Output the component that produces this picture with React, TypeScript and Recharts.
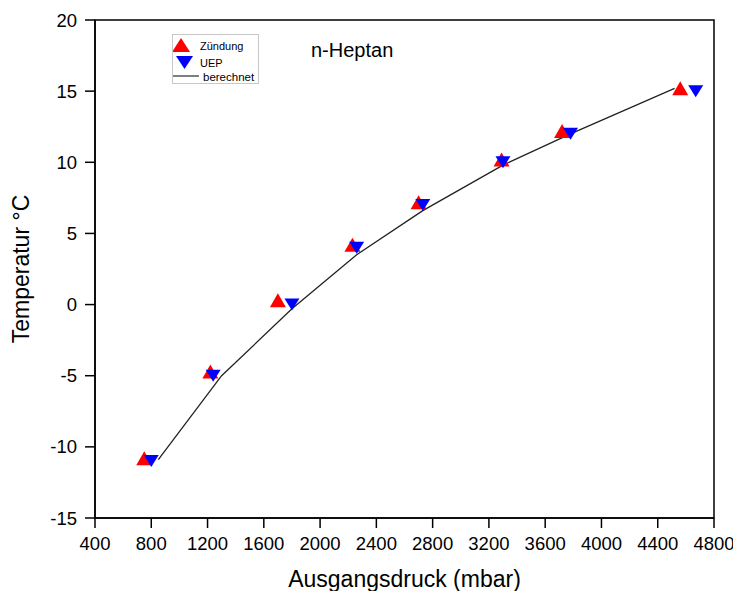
import { ComposedChart, Scatter, Line, XAxis, YAxis, ReferenceArea, Legend } from 'recharts'

// Messwerte: Ausgangsdruck (mbar) / Temperatur (°C)
const zuendungDruck = [750, 1220, 1700, 2230, 2700, 3290, 3720, 4560]
const zuendungTemp = [-10.8, -4.7, 0.3, 4.2, 7.2, 10.2, 12.2, 15.2]
const uepDruck = [800, 1240, 1800, 2260, 2730, 3300, 3780, 4670]
const uepTemp = [-11.0, -5.0, 0.0, 4.0, 7.0, 10.0, 12.0, 15.0]
const berechnetDruck = [850, 1300, 1800, 2260, 2730, 3300, 3780, 4520]
const berechnetTemp = [-10.9, -5.0, -0.3, 3.5, 6.6, 9.8, 12.0, 15.2]

const xTicks = [400, 800, 1200, 1600, 2000, 2400, 2800, 3200, 3600, 4000, 4400, 4800]
const yTicks = [-15, -10, -5, 0, 5, 10, 15, 20]

const zuendung = zuendungDruck.map((p, i) => ({ p, t: zuendungTemp[i] }))
const uep = uepDruck.map((p, i) => ({ p, t: uepTemp[i] }))
const berechnet = berechnetDruck.map((p, i) => ({ p, t: berechnetTemp[i] }))

const font = '"Liberation Sans", Arial, sans-serif'

const UpTriangle = (props: any) => {
    const { cx, cy, fill } = props
    return <polygon points={`${cx},${cy - 7} ${cx + 8},${cy + 7} ${cx - 8},${cy + 7}`} fill={fill} />
}

const DownTriangle = (props: any) => {
    const { cx, cy, fill } = props
    return <polygon points={`${cx - 7.5},${cy - 6} ${cx + 7.5},${cy - 6} ${cx},${cy + 6}`} fill={fill} />
}

const LegendBox = () => (
    <div style={{ width: 87, height: 50, border: '1px solid #c8c8c8', boxSizing: 'border-box', background: '#fff' }}>
        <svg width={85} height={48} style={{ display: 'block' }}>
            <polygon points="8,3 17,17 -1,17" fill="#ff0000" />
            <text x={27} y={15} fontSize={11} fontFamily={font} fill="#000">Zündung</text>
            <polygon points="3,21 20,21 11.5,34" fill="#0000ff" />
            <text x={27} y={32} fontSize={11} fontFamily={font} fill="#000">UEP</text>
            <line x1={0} y1={41} x2={26} y2={41} stroke="#000" strokeWidth={1} />
            <text x={30} y={46} fontSize={11.5} fontFamily={font} fill="#000">berechnet</text>
        </svg>
    </div>
)

export default function App() {
    return (
        <ComposedChart
            width={733}
            height={583}
            margin={{ top: 12, right: 27, bottom: 0, left: 0 }}
            style={{ fontFamily: font }}
        >
            <XAxis
                dataKey="p"
                type="number"
                domain={[400, 4800]}
                ticks={xTicks}
                allowDataOverflow
                height={73}
                stroke="#000"
                strokeWidth={1.5}
                tickSize={10}
                tickMargin={9}
                tick={{ fill: '#000', fontSize: 18.5 }}
                label={{ value: 'Ausgangsdruck (mbar)', position: 'insideBottom', offset: 4, fill: '#000', fontSize: 23 }}
            />
            <YAxis
                dataKey="t"
                type="number"
                domain={[-15, 20]}
                ticks={yTicks}
                allowDataOverflow
                width={87}
                stroke="#000"
                strokeWidth={1.5}
                tickSize={10}
                tickMargin={8}
                tick={{ fill: '#000', fontSize: 18.5 }}
                label={{
                    value: 'Temperatur °C',
                    angle: -90,
                    position: 'insideLeft',
                    offset: 13,
                    fill: '#000',
                    fontSize: 23,
                    style: { textAnchor: 'middle' }
                }}
            />
            <ReferenceArea x1={400} x2={4800} y1={-15} y2={20} fill="none" stroke="#000" strokeWidth={1.5} />
            <Scatter name="Zündung" data={zuendung} dataKey="t" fill="#ff0000" shape={UpTriangle} isAnimationActive={false} />
            <Scatter name="UEP" data={uep} dataKey="t" fill="#0000ff" shape={DownTriangle} isAnimationActive={false} />
            <Line
                name="berechnet"
                data={berechnet}
                dataKey="t"
                type="linear"
                stroke="#222"
                strokeWidth={1.3}
                dot={false}
                isAnimationActive={false}
            />
            <Legend
                layout="vertical"
                align="center"
                verticalAlign="middle"
                content={<LegendBox />}
                wrapperStyle={{ left: 164, top: 26, width: 87, height: 50 }}
            />
            <text x={303} y={49} fontSize={20} fontFamily={font} fill="#000">n-Heptan</text>
        </ComposedChart>
    )
}
